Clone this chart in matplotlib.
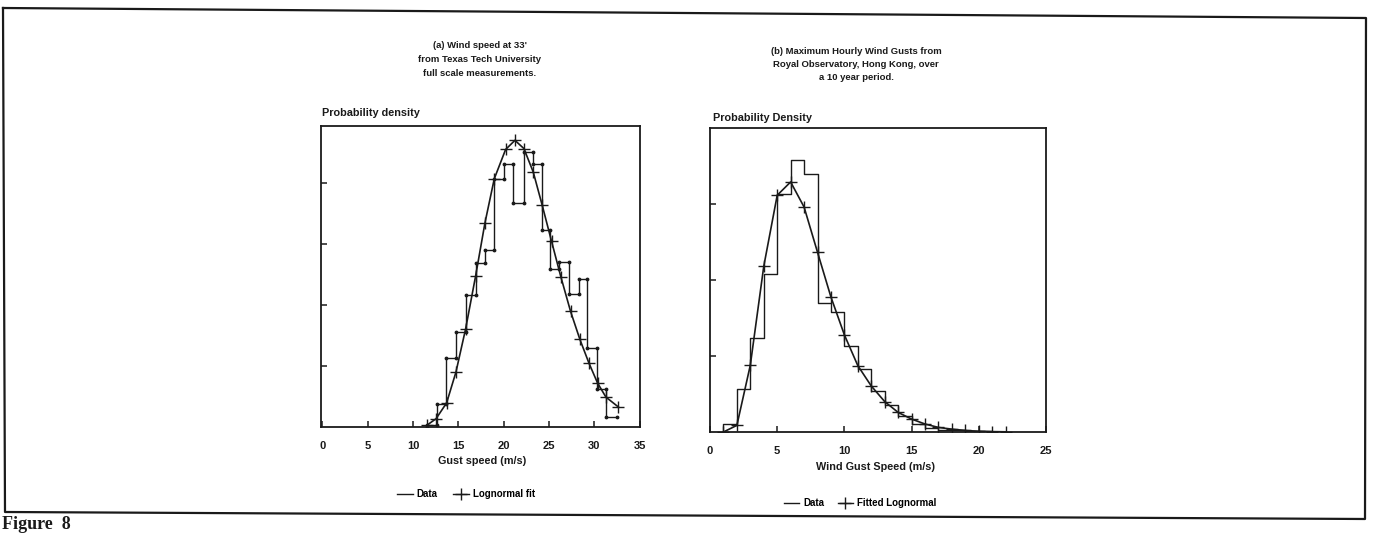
import numpy as np
import matplotlib
matplotlib.use("Agg")
import matplotlib.pyplot as plt
from matplotlib.lines import Line2D

# ---------------- data ----------------
# (a) Texas Tech gust speed
a_edges = [11.5, 12.6, 13.6, 14.74, 15.8, 16.9, 17.9, 18.97, 20.04, 21.07, 22.24,
           23.27, 24.26, 25.1, 26.14, 27.24, 28.27, 29.23, 30.33, 31.29, 32.46]
a_data = [0.0005, 0.0074, 0.0227, 0.0311, 0.0432, 0.0538, 0.0581, 0.0813, 0.0862, 0.0736,
          0.0903, 0.0862, 0.0645, 0.0519, 0.0541, 0.0437, 0.0484, 0.0259, 0.0126, 0.0033]
a_fit_x = [11.5, 12.54, 13.71, 14.74, 15.81, 16.91, 17.94, 18.97, 20.22, 21.25, 22.24,
           23.27, 24.26, 25.29, 26.32, 27.39, 28.42, 29.41, 30.37, 31.29, 32.65]
a_fit_y = [0.0005, 0.0027, 0.0079, 0.0180, 0.0322, 0.0495, 0.0669, 0.0814, 0.0910, 0.0940,
           0.0913, 0.0836, 0.0727, 0.0609, 0.0492, 0.0379, 0.0287, 0.0210, 0.0144, 0.0098, 0.0066]

# (b) Hong Kong hourly gusts
b_edges = [1, 2, 3, 4, 5, 6, 7, 8, 9, 10, 11, 12, 13, 14, 15, 16, 17, 18, 19, 20, 21, 22]
b_data = [0.0044, 0.0224, 0.0497, 0.0833, 0.1251, 0.1433, 0.1360, 0.0678, 0.0629, 0.0455,
          0.0331, 0.0215, 0.0140, 0.0085, 0.0042, 0.0022, 0.0012, 0.0008, 0.0005, 0.0003, 0.0002]
b_fit_x = [1, 2, 3, 4, 5, 6, 7, 8, 9, 10, 11, 12, 13, 14, 15, 16, 17, 18, 19, 20, 21, 22]
b_fit_y = [0.0, 0.0035, 0.0352, 0.0872, 0.1246, 0.1316, 0.1184, 0.0946, 0.0710, 0.0511,
           0.0349, 0.0242, 0.0160, 0.0103, 0.0068, 0.0042, 0.0024, 0.0015, 0.0008, 0.0004,
           0.0002, 0.0001]

a_xticks = [0, 5, 10, 15, 20, 25, 30, 35]
b_xticks = [0, 5, 10, 15, 20, 25]
a_yticks = [0.02, 0.04, 0.06, 0.08]
b_yticks = [0.04, 0.08, 0.12]

# ---------------- style ----------------
W, H = 1374, 533
FONT = ['Liberation Sans Narrow', 'Liberation Sans', 'DejaVu Sans']
plt.rcParams['font.family'] = FONT
plt.rcParams['font.weight'] = 'bold'
INK = '#1a1a1a'

fig = plt.figure(figsize=(W / 100, H / 100), dpi=100)
fig.patch.set_facecolor('white')


def fx(x):
    return x / W


def fy(y):
    return 1 - y / H


def ftext(x, y, s, **kw):
    kw.setdefault('fontsize', 7)
    kw.setdefault('fontweight', 'bold')
    kw.setdefault('color', INK)
    fig.text(fx(x), fy(y), s, **kw)


def axes_px(x0, y0, x1, y1):
    return fig.add_axes([fx(x0), fy(y1), (x1 - x0) / W, (y1 - y0) / H])


def style_axes(ax, xticks, yticks):
    for s in ax.spines.values():
        s.set_linewidth(1.3)
        s.set_color(INK)
    ax.set_xticks(xticks)
    ax.set_xticklabels([str(t) for t in xticks], fontsize=8, fontweight='bold', color=INK,
                       family=['Liberation Sans', 'DejaVu Sans'])
    ax.set_yticks(yticks)
    ax.set_yticklabels([])
    ax.tick_params(axis='both', direction='in', length=4, width=1.1, color=INK)
    ax.tick_params(axis='x', pad=10)


def step_vertices(edges, vals):
    e = np.asarray(edges, float)
    v = np.asarray(vals, float)
    xs = np.repeat(e, 2)
    ys = np.concatenate([[0.0], np.repeat(v, 2), [0.0]])
    return xs, ys


# ---------------- panel (a) ----------------
axa = axes_px(321, 126, 640, 427)
xs, ys = step_vertices(a_edges, a_data)
axa.plot(xs[:-1], ys[:-1], color=INK, lw=1.0, marker='.', markersize=3.5)
axa.plot(a_fit_x, a_fit_y, color=INK, lw=1.2, marker='+', markersize=8, mew=1.0)
axa.set_xlim(-0.15, 35.05)
axa.set_ylim(0, 0.0987)
style_axes(axa, a_xticks, a_yticks)

# ---------------- panel (b) ----------------
axb = axes_px(710, 128, 1046, 432)
xs, ys = step_vertices(b_edges, b_data)
axb.plot(xs, ys, color=INK, lw=1.0)
axb.plot(b_fit_x, b_fit_y, color=INK, lw=1.2, marker='+', markersize=8, mew=1.0)
axb.set_xlim(0, 25)
axb.set_ylim(0, 0.16)
style_axes(axb, b_xticks, b_yticks)

# ---------------- texts ----------------
for i, line in enumerate(["(a) Wind speed at 33'", "from Texas Tech University",
                          "full scale measurements."]):
    ftext(480, 46 + i * 13.5, line, ha='center', va='center', fontsize=6.8)
for i, line in enumerate(["(b) Maximum Hourly Wind Gusts from",
                          "Royal Observatory, Hong Kong, over", "a 10 year period."]):
    ftext(856, 51 + i * 13, line, ha='center', va='center', fontsize=6.8)

ftext(322, 113, "Probability density", ha='left', va='center', fontsize=7.8)
ftext(713, 118, "Probability Density", ha='left', va='center', fontsize=7.8)
ftext(482, 461, "Gust speed (m/s)", ha='center', va='center', fontsize=7.8)
ftext(875, 467, "Wind Gust Speed (m/s)", ha='center', va='center', fontsize=7.8)

# legends
h_data = Line2D([], [], color=INK, lw=1.0)
h_fit = Line2D([], [], color=INK, lw=1.0, marker='+', markersize=8, mew=1.0)
lega = fig.legend([h_data, h_fit], ["Data", "Lognormal fit"], loc='center',
                  bbox_to_anchor=(fx(466), fy(494)), ncol=2, frameon=False,
                  handlelength=1.6, handletextpad=0.4, columnspacing=1.6,
                  prop={'family': FONT, 'weight': 'bold', 'size': 7})
legb = fig.legend([h_data, h_fit], ["Data", "Fitted Lognormal"], loc='center',
                  bbox_to_anchor=(fx(860), fy(503)), ncol=2, frameon=False,
                  handlelength=1.6, handletextpad=0.4, columnspacing=1.4,
                  prop={'family': FONT, 'weight': 'bold', 'size': 7})

# outer frame (slightly skewed scan)
corners = [(3, 8), (1366, 18), (1365, 519), (5, 512), (3, 8)]
fig.add_artist(Line2D([fx(c[0]) for c in corners], [fy(c[1]) for c in corners],
                      color=INK, lw=1.6, transform=fig.transFigure))

# caption at the bottom edge
fig.text(fx(2), fy(529), "Figure  8", fontsize=13, fontweight='bold',
         family=['Liberation Serif', 'DejaVu Serif'], ha='left', va='baseline', color=INK)

fig.savefig("out.png", dpi=100, facecolor='white')
